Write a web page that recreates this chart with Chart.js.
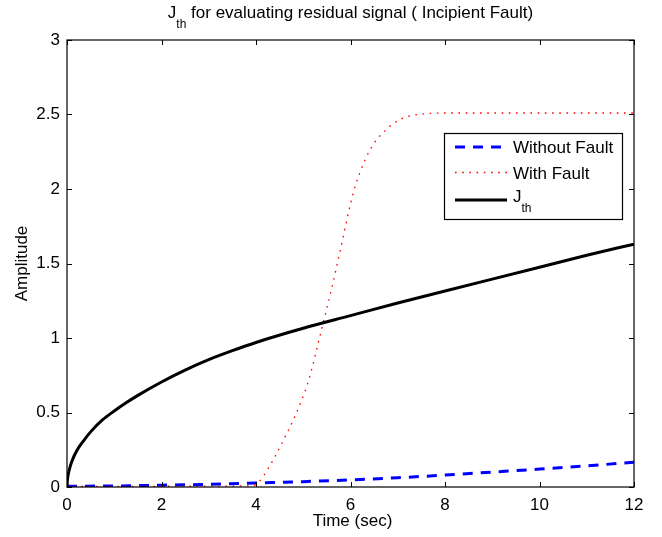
<!DOCTYPE html>
<html lang="en">
<head>
  <meta charset="UTF-8">
  <title>Jth for evaluating residual signal</title>
  <script src="https://cdn.jsdelivr.net/npm/chart.js"></script>
  <style>
    html, body { margin: 0; padding: 0; background: #fff; }
    #chart { display: block; }
  </style>
</head>
<body>
  <canvas id="chart" width="662" height="537"></canvas>

  <script>
    // values
    const xTicks = [0, 2, 4, 6, 8, 10, 12];
    const yTicks = [0, 0.5, 1, 1.5, 2, 2.5, 3];

    const tWithout = [0, 1, 2, 3, 4, 5, 6, 7, 8, 9, 10, 11, 12];
    const vWithout = [0.005, 0.007, 0.012, 0.018, 0.027, 0.036, 0.048, 0.062, 0.08, 0.1, 0.12, 0.142, 0.166];

    const tWith = [0, 1, 2, 3, 3.9, 4.05, 4.25, 4.44, 4.62, 4.79, 4.95, 5.07, 5.18, 5.28, 5.39, 5.5, 5.6,
                   5.7, 5.8, 5.9, 6.0, 6.1, 6.2, 6.3, 6.4, 6.55, 6.73, 6.91, 7.19, 7.6, 8, 9, 10, 11, 12];
    const vWith = [0.004, 0.004, 0.005, 0.006, 0.008, 0.03, 0.12, 0.226, 0.34, 0.45, 0.57, 0.673, 0.79,
                   0.919, 1.06, 1.2, 1.33, 1.47, 1.61, 1.76, 1.9, 2.02, 2.11, 2.19, 2.255, 2.33, 2.39,
                   2.44, 2.485, 2.505, 2.51, 2.51, 2.51, 2.51, 2.51];

    const tJth = [0, 0.01, 0.03, 0.06, 0.1, 0.2, 0.35, 0.5, 0.75, 1, 1.25, 1.5, 2, 2.5, 3, 3.5, 4,
                  5, 6, 7, 8, 9, 10, 11, 12];
    const vJth = [0, 0.05, 0.09, 0.13, 0.17, 0.24, 0.31, 0.37, 0.45, 0.51, 0.565, 0.615, 0.705, 0.785,
                  0.855, 0.915, 0.97, 1.065, 1.15, 1.235, 1.315, 1.395, 1.475, 1.555, 1.63];

    const FONT = "'Liberation Sans', Arial, Helvetica, sans-serif";
    const pts = (xs, ys) => xs.map((x, i) => ({ x: x, y: ys[i] }));

    const styles = {
      without: { color: '#0000ff', width: 3, dash: [10, 8] },
      withF: { color: '#ff0000', width: 1.3, dash: [1.6, 5.6] },
      jth: { color: '#000000', width: 3, dash: [] }
    };

    // title, axis labels, box, inward ticks, legend
    const matlabLook = {
      id: 'matlabLook',
      afterDraw(chart) {
        const ctx = chart.ctx;
        const a = chart.chartArea;
        const xs = chart.scales.x, ys = chart.scales.y;
        ctx.save();
        ctx.fillStyle = '#000';
        ctx.strokeStyle = '#000';

        // box
        ctx.lineWidth = 1.2;
        ctx.setLineDash([]);
        ctx.strokeRect(a.left, a.top, a.right - a.left, a.bottom - a.top);

        // ticks pointing inwards
        ctx.lineWidth = 1;
        ctx.beginPath();
        xTicks.forEach(v => {
          const px = Math.round(xs.getPixelForValue(v)) + 0.5;
          ctx.moveTo(px, a.bottom); ctx.lineTo(px, a.bottom - 5);
          ctx.moveTo(px, a.top); ctx.lineTo(px, a.top + 5);
        });
        yTicks.forEach(v => {
          const py = Math.round(ys.getPixelForValue(v)) + 0.5;
          ctx.moveTo(a.left, py); ctx.lineTo(a.left + 5, py);
          ctx.moveTo(a.right, py); ctx.lineTo(a.right - 5, py);
        });
        ctx.stroke();

        // title with subscript
        const big = '17px ' + FONT, small = '12px ' + FONT;
        const rest = ' for evaluating residual signal ( Incipient Fault)';
        ctx.font = big;
        const wJ = ctx.measureText('J').width, wRest = ctx.measureText(rest).width;
        ctx.font = small;
        const wTh = ctx.measureText('th').width;
        let x0 = (a.left + a.right) / 2 - (wJ + wTh + wRest) / 2;
        ctx.textAlign = 'left';
        ctx.textBaseline = 'alphabetic';
        ctx.font = big; ctx.fillText('J', x0, 18);
        ctx.font = small; ctx.fillText('th', x0 + wJ, 28);
        ctx.font = big; ctx.fillText(rest, x0 + wJ + wTh, 18);

        // x label
        ctx.textAlign = 'center';
        ctx.fillText('Time (sec)', (a.left + a.right) / 2 + 2, 526);

        // y label
        ctx.save();
        ctx.translate(27, (a.top + a.bottom) / 2);
        ctx.rotate(-Math.PI / 2);
        ctx.fillText('Amplitude', 0, 0);
        ctx.restore();

        // legend
        const L = 444.5, T = 133.5, W = 178, H = 86;
        ctx.fillStyle = '#fff';
        ctx.fillRect(L, T, W, H);
        ctx.lineWidth = 1.2;
        ctx.strokeRect(L, T, W, H);
        const rows = [
          { s: styles.without, y: 147, text: 'Without Fault' },
          { s: styles.withF, y: 172.5, text: 'With Fault' },
          { s: styles.jth, y: 200, text: 'J' }
        ];
        rows.forEach(r => {
          ctx.beginPath();
          ctx.strokeStyle = r.s.color;
          ctx.lineWidth = r.s.width;
          ctx.setLineDash(r.s.dash);
          ctx.moveTo(455, r.y); ctx.lineTo(507, r.y);
          ctx.stroke();
          ctx.setLineDash([]);
          ctx.fillStyle = '#000';
          ctx.textAlign = 'left';
          ctx.font = big;
          if (r.text === 'J') {
            ctx.fillText('J', 513, 202);
            ctx.font = small;
            ctx.fillText('th', 513 + wJ, 212);
          } else {
            ctx.fillText(r.text, 513, r.y + 6);
          }
        });
        ctx.restore();
      }
    };

    const ctx = document.getElementById('chart').getContext('2d');
    new Chart(ctx, {
      type: 'line',
      data: {
        datasets: [
          {
            label: 'J_th',
            data: pts(tJth, vJth),
            borderColor: styles.jth.color,
            borderWidth: styles.jth.width,
            cubicInterpolationMode: 'monotone',
            pointRadius: 0,
            order: 0
          },
          {
            label: 'With Fault',
            data: pts(tWith, vWith),
            borderColor: styles.withF.color,
            borderWidth: styles.withF.width,
            borderDash: styles.withF.dash,
            cubicInterpolationMode: 'monotone',
            pointRadius: 0,
            order: 1
          },
          {
            label: 'Without Fault',
            data: pts(tWithout, vWithout),
            borderColor: styles.without.color,
            borderWidth: styles.without.width,
            borderDash: styles.without.dash,
            cubicInterpolationMode: 'monotone',
            pointRadius: 0,
            order: 2
          }
        ]
      },
      options: {
        responsive: false,
        animation: false,
        layout: { padding: { top: 40, right: 28, left: 0, bottom: 0 } },
        plugins: {
          legend: { display: false },
          title: { display: false },
          tooltip: { enabled: false }
        },
        scales: {
          x: {
            type: 'linear',
            min: 0,
            max: 12,
            afterFit: s => { s.height = 50; },
            afterBuildTicks: s => { s.ticks = xTicks.map(v => ({ value: v })); },
            grid: { display: false, drawTicks: false },
            border: { display: false },
            ticks: { color: '#000', padding: 8, maxRotation: 0, font: { family: FONT, size: 17 },
                     callback: v => String(v) }
          },
          y: {
            min: 0,
            max: 3,
            afterFit: s => { s.width = 67; },
            afterBuildTicks: s => { s.ticks = yTicks.map(v => ({ value: v })); },
            grid: { display: false, drawTicks: false },
            border: { display: false },
            ticks: { color: '#000', padding: 7, font: { family: FONT, size: 17 },
                     callback: v => String(v) }
          }
        }
      },
      plugins: [matlabLook]
    });
  </script>
</body>
</html>
